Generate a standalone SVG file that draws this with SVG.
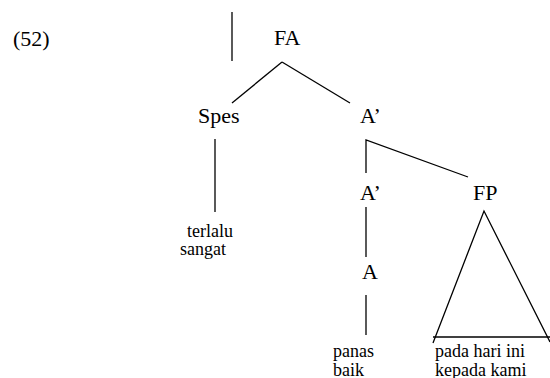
<svg xmlns="http://www.w3.org/2000/svg" width="550" height="378" viewBox="0 0 550 378">
<style>
.ln{stroke:#000;stroke-width:1.3;fill:none}
</style>
<rect width="550" height="378" fill="#fff"/>
<g font-family="Liberation Serif" fill="#000">
<text x="13" y="46" font-size="22">(52)</text>
</g>
<g id="connectors">
<line class="ln" x1="232" y1="12" x2="232" y2="61"/>
<line class="ln" x1="282" y1="62" x2="232" y2="103"/>
<line class="ln" x1="282" y1="62" x2="350" y2="103"/>
<line class="ln" x1="215" y1="139" x2="215" y2="212"/>
<polyline class="ln" points="366,173 366,140 468,177"/>
<line class="ln" x1="366" y1="207" x2="366" y2="257"/>
<line class="ln" x1="366" y1="295" x2="366" y2="335"/>
</g>
<g font-family="Liberation Serif" font-size="22" fill="#000">
<g id="FA"><text x="274" y="45">FA</text></g>
<g id="Spes"><text x="198" y="123">Spes</text></g>
<g id="A1"><text x="360" y="123">A’</text></g>
<g id="A2"><text x="360" y="200">A’</text></g>
<g id="FP"><text x="473" y="200">FP</text></g>
<g id="A"><text x="362" y="279">A</text></g>
</g>
<g id="FP-triangle">
<polyline class="ln" points="433,343 484,211 550,342"/>
<line class="ln" x1="433" y1="337" x2="550" y2="337"/>
</g>
<g font-family="Liberation Serif" font-size="18" fill="#000">
<g id="terlalu"><text x="187" y="237">terlalu</text><text x="180" y="255">sangat</text></g>
<g id="panas"><text x="333" y="357">panas</text><text x="333" y="376">baik</text></g>
<g id="pada"><text x="435" y="357">pada hari ini</text><text x="435" y="376">kepada kami</text></g>
</g>
</svg>
